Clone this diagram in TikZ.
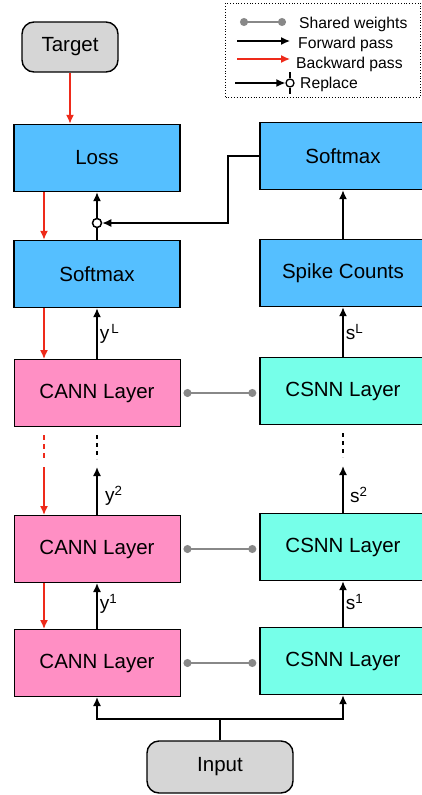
\documentclass[tikz,border=0pt]{standalone}
\usepackage{fontspec}
\setmainfont{Liberation Sans}
\usetikzlibrary{arrows.meta, positioning}

\definecolor{netblue}{HTML}{55BFFF}
\definecolor{annpink}{HTML}{FF8FC4}
\definecolor{snncyan}{HTML}{76FFE9}
\definecolor{iogrey}{HTML}{D6D6D6}
\definecolor{backred}{HTML}{EE2A1A}
\definecolor{sharegrey}{HTML}{888888}

\begin{document}
\begin{tikzpicture}[
    x=1pt, y=-1pt,
    every node/.style={inner sep=2pt},
    box/.style={draw, line width=1.4pt, minimum width=166pt, minimum height=67pt, font=\fontsize{20.5}{24}\selectfont},
    iobox/.style={draw, line width=1.4pt, rounded corners=12pt, fill=iogrey, minimum width=146pt, minimum height=52pt, font=\fontsize{20.5}{24}\selectfont},
    lbl/.style={anchor=west, font=\fontsize{19}{22}\selectfont},
    lgtxt/.style={anchor=west, font=\fontsize{15.7}{18}\selectfont},
    fwd/.style={->, line width=1.5pt},
    bwd/.style={->, line width=1.5pt, backred},
    shared/.style={{Circle[length=8pt]}-{Circle[length=8pt]}, line width=1.6pt, sharegrey},
    >={Latex[length=9pt, width=8pt]} % Arrow style
]
\useasboundingbox (0,0) rectangle (421,795);

% Nodes
\node[iobox, minimum width=96pt, minimum height=50pt] (target) at (70,47) {Target};
\node[box, fill=netblue] (loss) at (97,158) {Loss};
\node[box, fill=netblue] (smL) at (97,274) {Softmax};
\node[box, fill=netblue] (smR) at (343,156) {Softmax};
\node[box, fill=netblue] (spike) at (343,273) {Spike Counts};
\node[box, fill=annpink, line width=1pt] (cann3) at (97,393) {CANN Layer};
\node[box, fill=annpink, line width=1pt] (cann2) at (97,549) {CANN Layer};
\node[box, fill=annpink, line width=1pt] (cann1) at (97,663) {CANN Layer};
\node[box, fill=snncyan] (csnn3) at (343,391) {CSNN Layer};
\node[box, fill=snncyan] (csnn2) at (343,547) {CSNN Layer};
\node[box, fill=snncyan] (csnn1) at (343,661) {CSNN Layer};
\node[iobox] (input) at (220,767) {Input};
\node[circle, draw, fill=white, line width=1.5pt, minimum size=9pt, inner sep=0pt] (rep) at (97,223) {};
\coordinate (split) at (220,719);
\coordinate (bend) at (228,158);
\coordinate (dotL) at (97,435);
\coordinate (dotR) at (343,433);
\coordinate (redDot) at (44,435);

% Forward pass
\draw[fwd] (input) -- (split) -| (cann1);
\draw[fwd] (split) -| (csnn1);
\draw[fwd] (cann1) -- node[lbl, pos=0.55] {y\textsuperscript{1}} (cann2);
\draw[fwd] (csnn1) -- node[lbl, pos=0.55] {s\textsuperscript{1}} (csnn2);
\draw[fwd] (cann2.north) -- (97,467);
\draw[fwd] (csnn2.north) -- (343,466);
\node[lbl] at (103,496) {y\textsuperscript{2}};
\node[lbl] at (348,495) {s\textsuperscript{2}};
\draw[line width=1.5pt, dash pattern=on 4pt off 4pt] (dotL) -- ++(0,24);
\draw[line width=1.5pt, dash pattern=on 4pt off 4pt] (dotR) -- ++(0,24);
\draw[fwd] (cann3) -- node[lbl, pos=0.5] {y\textsuperscript{\,L}} (smL);
\draw[fwd] (csnn3) -- node[lbl, pos=0.5] {s\textsuperscript{L}} (spike);
\draw[fwd] (spike) -- (smR);
\draw[line width=1.5pt] (smL) -- (rep);
\draw[fwd] (rep) -- (loss);
\draw[fwd] (smR.west) -- (smR.west -| bend) |- (rep.east);

% Backward pass
\draw[bwd] (target) -- (loss.north -| target);
\draw[bwd] (loss.south -| redDot) -- (smL.north -| redDot);
\draw[bwd] (smL.south -| redDot) -- (cann3.north -| redDot);
\draw[line width=1.5pt, backred, dash pattern=on 5pt off 4pt] (redDot) -- ++(0,24);
\draw[bwd] (44,467) -- (cann2.north -| redDot);
\draw[bwd] (cann2.south -| redDot) -- (cann1.north -| redDot);

% Shared weights
\draw[shared] ([xshift=3pt]cann3.east) -- ([xshift=-3pt]cann3.east -| csnn3.west);
\draw[shared] ([xshift=3pt]cann2.east) -- ([xshift=-3pt]cann2.east -| csnn2.west);
\draw[shared] ([xshift=3pt]cann1.east) -- ([xshift=-3pt]cann1.east -| csnn1.west);

% Legend
\node[draw, dotted, line width=0.8pt, minimum width=195pt, minimum height=94pt] (legend) at (323,50) {};
\draw[shared, line width=1.4pt] (240,22) -- (286,22);
\node[lgtxt] (lgShare) at (297,24) {Shared weights};
\draw[fwd, line width=1.3pt] (237,41) -- (290,41);
\node[lgtxt] (lgFwd) at (296,44) {Forward pass};
\draw[bwd, line width=1.3pt] (237,59) -- (290,59);
\node[lgtxt] (lgBwd) at (294,64) {Backward pass};
\node[circle, draw, fill=white, line width=1.3pt, minimum size=8pt, inner sep=0pt] (lgRep) at (290,83) {};
\draw[line width=1.3pt] (290,72) -- (lgRep.north) (lgRep.south) -- (290,94);
\draw[fwd, line width=1.3pt] (235,83) -- (lgRep.west);
\node[lgtxt] (lgRepTxt) at (298,84) {Replace};

\end{tikzpicture}
\end{document}
